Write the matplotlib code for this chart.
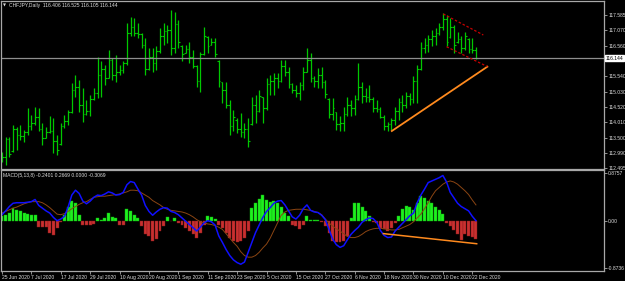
import numpy as np
import matplotlib
matplotlib.use("Agg")
import matplotlib.pyplot as plt
import matplotlib.transforms as mtransforms

plt.rcParams['font.family'] = ['Liberation Sans Narrow', 'Liberation Sans', 'DejaVu Sans']

# CHFJPY daily bars, 25 Jun 2020 .. 23 Dec 2020
opens = [112.90,112.85,113.45,113.05,113.80,113.60,113.55,113.70,113.90,114.00,
         114.20,113.80,113.50,113.70,113.72,113.40,113.30,113.90,114.05,114.35,
         115.10,115.20,114.60,114.30,114.40,114.80,115.00,115.60,115.80,115.50,
         116.10,115.60,115.70,115.75,115.98,117.00,117.20,117.00,116.95,116.60,
         115.80,116.20,116.00,116.40,116.90,117.05,117.10,116.50,117.30,116.55,
         116.32,116.45,116.20,115.90,115.40,116.30,116.85,116.60,116.70,116.05,
         115.35,115.10,114.60,113.90,114.10,113.80,113.70,113.80,113.95,114.60,
         114.40,114.85,114.50,115.30,115.40,115.50,115.40,115.90,115.70,115.30,
         115.10,115.00,115.25,115.70,116.10,115.50,115.40,115.60,115.35,114.80,
         114.30,114.35,113.95,114.00,114.30,114.60,114.50,114.80,115.20,114.90,
         114.85,114.80,114.50,114.45,114.20,113.90,113.95,114.10,114.40,114.70,
         114.60,114.90,114.80,115.40,115.80,116.50,116.60,116.80,116.90,117.00,
         117.20,117.45,116.85,117.20,116.70,116.80,116.50,116.80,116.45,116.406]
highs = [113.04,113.54,113.54,113.93,113.87,113.93,113.76,114.48,114.26,114.54,
         114.48,113.99,113.87,114.21,114.15,113.60,113.99,114.26,114.43,115.31,
         115.59,115.43,115.15,114.76,114.93,115.15,116.20,116.04,115.93,116.42,
         116.15,116.26,115.93,116.04,117.31,117.53,117.48,117.31,116.98,116.81,
         116.48,116.48,116.54,117.14,117.31,117.25,117.75,117.70,117.42,116.59,
         116.59,116.70,116.42,115.93,116.37,117.20,116.87,116.81,116.81,116.09,
         115.37,115.37,114.76,114.43,114.15,114.32,113.99,114.15,114.87,114.93,
         115.09,114.87,115.48,115.59,115.65,115.65,116.09,116.09,115.87,115.31,
         115.26,115.37,115.87,116.48,116.31,115.54,115.81,115.87,115.43,114.82,
         114.82,114.37,114.21,114.54,114.87,114.76,114.93,115.98,115.37,115.15,
         115.26,114.87,114.76,114.54,114.26,114.04,114.15,114.54,114.82,114.93,
         115.04,114.98,115.54,115.93,116.70,116.81,116.92,117.09,117.14,117.31,
         117.64,117.59,117.48,117.25,117.03,116.87,117.03,116.81,116.81,116.525]
lows = [112.71,112.60,112.87,113.04,113.10,113.43,113.37,113.60,113.76,113.93,
        113.71,113.26,113.49,113.65,112.99,112.93,113.26,113.82,113.93,114.32,
        114.87,114.37,114.04,114.26,114.21,114.76,114.82,114.87,115.26,115.48,
        115.43,115.37,115.59,115.65,115.93,116.87,116.87,116.81,116.48,115.59,
        115.76,115.70,115.76,116.31,116.59,116.65,116.26,116.31,116.48,116.04,
        116.31,115.98,115.81,115.20,115.04,116.26,116.31,116.59,116.20,115.20,
        114.65,114.48,113.60,113.71,113.65,113.54,113.49,113.21,113.93,113.99,
        114.37,113.99,114.43,114.93,114.93,115.15,115.37,115.54,115.15,114.98,
        114.87,114.76,115.09,115.70,115.37,115.20,115.15,115.15,114.82,114.15,
        114.10,113.76,113.71,113.71,114.21,114.21,114.26,114.76,114.65,114.70,
        114.70,114.37,114.37,114.15,113.76,113.71,113.76,113.93,114.10,114.37,
        114.48,114.59,114.65,114.65,115.76,116.31,116.37,116.54,116.59,116.92,
        117.09,116.54,116.81,116.31,116.65,116.31,116.42,116.31,116.31,116.105]
closes = [112.85,113.45,112.95,113.80,113.60,113.55,113.70,113.90,114.00,114.20,
          113.80,113.50,113.70,113.72,113.40,113.10,113.90,114.05,114.35,115.10,
          115.20,114.60,114.30,114.40,114.80,115.00,115.60,115.80,115.50,116.10,
          115.60,115.70,115.75,115.98,117.00,117.20,117.00,116.95,116.60,115.80,
          116.20,116.00,116.40,116.90,117.05,117.10,116.50,117.30,116.70,116.30,
          116.45,116.20,115.90,115.40,116.30,116.90,116.55,116.70,116.30,115.40,
          115.10,114.60,113.90,114.20,113.80,113.70,113.80,113.40,114.60,114.40,
          114.90,114.50,115.30,115.40,115.50,115.40,115.90,115.70,115.30,115.10,
          115.00,115.25,115.70,116.10,115.50,115.40,115.60,115.35,114.95,114.30,
          114.50,113.95,114.00,114.30,114.60,114.50,114.80,115.20,114.90,114.85,
          114.80,114.50,114.45,114.20,113.90,113.95,114.10,114.40,114.70,114.60,
          114.90,114.80,115.40,115.80,116.50,116.60,116.80,116.90,117.00,117.20,
          117.45,116.70,117.20,116.60,116.80,116.50,116.90,116.45,116.41,116.144]

# MACD(5,13,8) panel
macd = [0.11,0.18,0.26,0.32,0.33,0.33,0.33,0.34,0.35,0.39,
        0.28,0.23,0.18,0.14,0.06,0.00,0.03,0.08,0.25,0.47,
        0.56,0.50,0.36,0.31,0.36,0.43,0.47,0.46,0.49,0.53,
        0.51,0.47,0.48,0.52,0.66,0.72,0.70,0.58,0.47,0.28,
        0.17,0.10,0.16,0.21,0.24,0.23,0.17,0.15,0.11,0.05,
        -0.01,-0.07,-0.13,-0.19,-0.12,-0.04,0.00,-0.02,-0.08,-0.28,
        -0.40,-0.53,-0.64,-0.72,-0.77,-0.80,-0.76,-0.58,-0.40,-0.22,
        -0.08,0.06,0.17,0.24,0.32,0.36,0.37,0.29,0.18,0.07,
        0.03,0.10,0.22,0.29,0.19,0.16,0.15,0.10,0.02,-0.16,
        -0.34,-0.44,-0.49,-0.46,-0.35,-0.25,-0.18,-0.12,-0.03,0.02,
        0.05,0.04,-0.03,-0.18,-0.27,-0.31,-0.30,-0.19,-0.12,-0.05,
        0.02,0.09,0.14,0.33,0.47,0.58,0.70,0.73,0.76,0.79,
        0.83,0.71,0.52,0.42,0.32,0.26,0.22,0.18,0.08,0.00]
signal = [0.14,0.17,0.20,0.23,0.25,0.28,0.31,0.33,0.35,0.35,
          0.35,0.33,0.29,0.24,0.18,0.12,0.11,0.13,0.17,0.22,
          0.26,0.30,0.33,0.35,0.39,0.43,0.44,0.45,0.45,0.46,
          0.47,0.48,0.49,0.51,0.53,0.56,0.56,0.55,0.51,0.47,
          0.43,0.37,0.33,0.29,0.24,0.21,0.19,0.18,0.17,0.16,
          0.14,0.11,0.07,0.02,-0.02,-0.04,-0.06,-0.07,-0.09,-0.12,
          -0.16,-0.24,-0.32,-0.40,-0.47,-0.57,-0.64,-0.67,-0.67,-0.64,
          -0.58,-0.50,-0.43,-0.32,-0.18,-0.04,0.10,0.16,0.19,0.20,
          0.21,0.21,0.21,0.20,0.19,0.17,0.15,0.11,0.03,-0.04,
          -0.10,-0.15,-0.19,-0.24,-0.29,-0.31,-0.31,-0.29,-0.25,-0.20,
          -0.17,-0.15,-0.14,-0.14,-0.15,-0.16,-0.17,-0.17,-0.16,-0.13,
          -0.10,-0.07,-0.02,0.05,0.12,0.22,0.33,0.45,0.55,0.61,
          0.67,0.71,0.73,0.71,0.67,0.61,0.55,0.48,0.38,0.29]
hist = [0.09,0.11,0.15,0.24,0.20,0.18,0.15,0.12,0.11,0.10,
        -0.12,-0.12,-0.11,-0.23,-0.26,-0.14,-0.02,0.11,0.26,0.37,
        0.32,0.11,-0.07,-0.07,-0.07,-0.06,0.05,0.02,0.05,0.15,
        0.06,0.05,-0.07,-0.07,0.21,0.17,0.11,0.05,-0.10,-0.25,
        -0.28,-0.37,-0.34,-0.19,-0.10,0.07,-0.01,0.05,-0.05,-0.07,
        -0.13,-0.19,-0.25,-0.31,-0.22,-0.07,0.09,0.07,0.03,-0.07,
        -0.13,-0.22,-0.31,-0.37,-0.40,-0.37,-0.31,-0.19,0.24,0.32,
        0.39,0.47,0.38,0.35,0.37,0.33,0.26,0.14,0.08,-0.07,
        -0.10,-0.16,-0.07,0.08,0.01,0.01,0.02,-0.03,-0.10,-0.22,
        -0.37,-0.40,-0.40,-0.37,-0.28,0.05,0.32,0.32,0.26,0.17,
        0.08,-0.02,-0.05,-0.13,-0.16,-0.19,-0.13,-0.04,0.08,0.22,
        0.27,0.26,0.19,0.33,0.45,0.41,0.36,0.32,0.26,0.19,
        0.12,-0.05,-0.10,-0.17,-0.25,-0.36,-0.25,-0.28,-0.30,-0.33]

date_labels = ['25 Jun 2020', '7 Jul 2020', '17 Jul 2020', '29 Jul 2020', '10 Aug 2020',
               '20 Aug 2020', '1 Sep 2020', '11 Sep 2020', '23 Sep 2020', '5 Oct 2020',
               '15 Oct 2020', '27 Oct 2020', '6 Nov 2020', '18 Nov 2020', '30 Nov 2020',
               '10 Dec 2020', '22 Dec 2020']
date_pos = [0, 8, 16, 24, 32, 40, 48, 56, 64, 72, 80, 88, 96, 104, 112, 120, 128]
price_ticks = [117.585, 117.070, 116.560, 116.050, 115.540, 115.030, 114.520,
               114.010, 113.500, 112.990, 112.495]
last_price = 116.144

# drawn objects (bar index, price)
support_line = ([106.1, 132.1], [113.726, 115.865])
channel_top = ([120.1, 131.0], [117.62, 116.92])
channel_bot = ([121.0, 132.1], [116.53, 115.87])
macd_line = ([103.8, 129.2], [-0.237, -0.423])

W, H = 625, 281
fig = plt.figure(figsize=(W / 100, H / 100), dpi=100, facecolor='black')
ax1 = fig.add_axes([1 / W, 1 - 169 / H, 603 / W, 168 / H], facecolor='black')
ax2 = fig.add_axes([1 / W, 10 / H, 603 / W, 101 / H], facecolor='black')

x = np.arange(len(closes))
txt = '#dcdcdc'
frame = '#a8a8a8'
bar_col = '#00c800'

for ax in (ax1, ax2):
    for s in ax.spines.values():
        s.set_color(frame)
        s.set_linewidth(0.9)
    ax.set_xlim(-0.27, 163.85)
    ax.yaxis.tick_right()
    ax.tick_params(axis='both', colors=frame, labelcolor=txt, labelsize=3.6,
                   length=2, width=0.6, pad=1)

# price bars
ax1.vlines(x, lows, highs, color=bar_col, lw=0.9)
ax1.hlines(opens, x - 0.45, x, color=bar_col, lw=0.8)
ax1.hlines(closes, x, x + 0.45, color=bar_col, lw=0.8)
ax1.set_ylim(112.462, 118.051)
ax1.set_xticks([])
ax1.set_yticks(price_ticks)
# the 116.050 label sits under the last-price box
ax1.set_yticklabels(['' if abs(v - 116.05) < 1e-6 else '%.3f' % v for v in price_ticks])

ax1.axhline(last_price, color='#8e8e8e', lw=0.9)
ax1.plot(*support_line, color='#ff8a1e', lw=1.3)
ax1.plot(*channel_top, color='#c80000', lw=0.9, ls=(0, (2, 1.5)))
ax1.plot(*channel_bot, color='#c80000', lw=0.9, ls=(0, (2, 1.5)))

tr = mtransforms.blended_transform_factory(ax1.transAxes, ax1.transData)
ax1.text(1.002, last_price, '%.3f' % last_price, transform=tr, fontsize=3.6,
         color='black', va='center', ha='left',
         bbox=dict(facecolor='white', edgecolor='white', pad=0.4))
ax1.text(0.004, 0.985, '\u25bc', transform=ax1.transAxes, fontsize=2.8,
         color=txt, va='top', ha='left', family=['DejaVu Sans'])
ax1.text(0.013, 0.988, 'CHFJPY,Daily  116.406 116.525 116.105 116.144',
         transform=ax1.transAxes, fontsize=3.6, color=txt, va='top', ha='left')

# MACD panel
h = np.array(hist)
cols = np.where(h >= 0, '#1ef01e', '#c83030')
edges = np.where(h >= 0, '#10b010', '#8a1a1a')
ax2.bar(x, h, width=0.8, color=cols, edgecolor=edges, linewidth=0.3)
ax2.plot(x, signal, color='#8b4513', lw=0.7)
ax2.plot(x, macd, color='#1010ff', lw=1.1)
ax2.plot(*macd_line, color='#ff8a1e', lw=1.1)
ax2.set_ylim(-0.924, 0.931)
ax2.set_yticks([0.8757, 0.0, -0.8736])
ax2.set_yticklabels(['0.8757', '0.00', '-0.8736'])
ax2.set_xticks(date_pos)
ax2.set_xticklabels(date_labels)
for lab in ax2.get_xticklabels():
    lab.set_ha('left')
ax2.text(0.004, 0.97, 'MACD(5,13,8) -0.2401 0.2669 0.0000 -0.3069',
         transform=ax2.transAxes, fontsize=3.6, color=txt, va='top', ha='left')

fig.savefig('out.png', dpi=100, facecolor='black')
